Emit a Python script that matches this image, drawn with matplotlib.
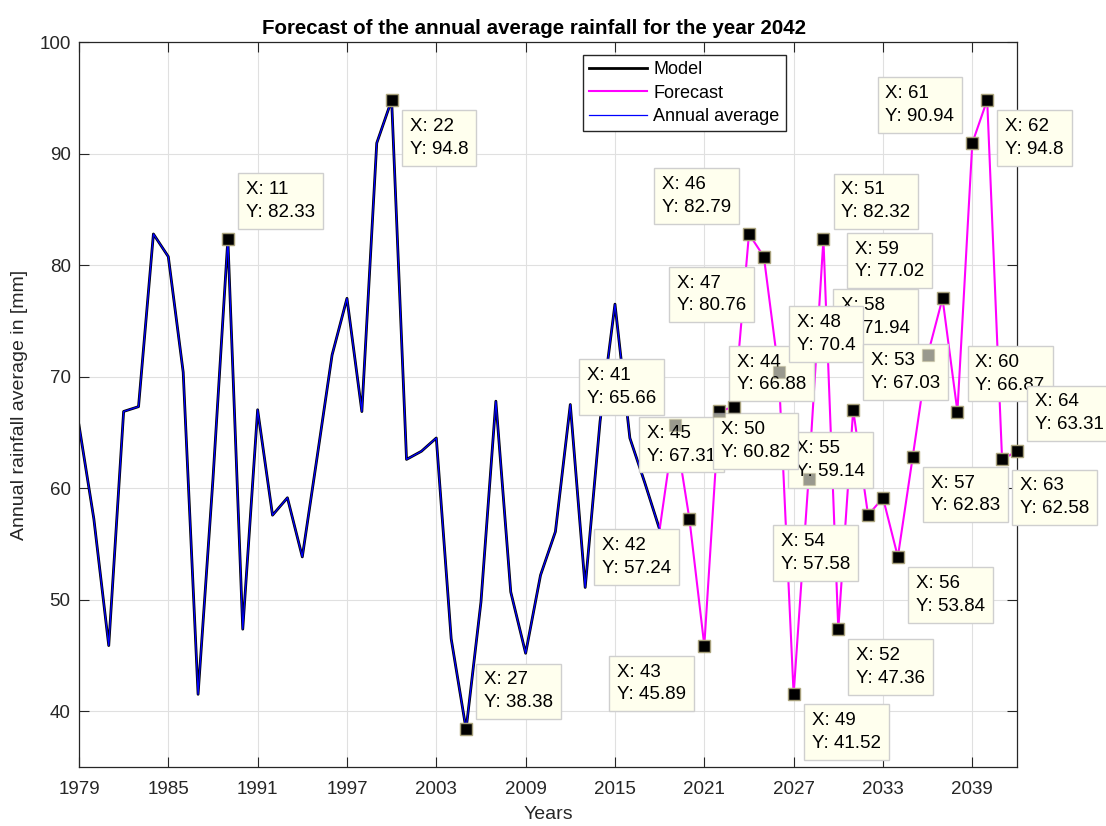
import matplotlib.pyplot as plt

plt.rcParams['font.family'] = ['Liberation Sans', 'DejaVu Sans']

# observed annual average 1979-2018
years_hist = list(range(1979, 2019))
rain_hist = [65.66, 57.24, 45.89, 66.88, 67.31, 82.79, 80.76, 70.40, 41.52, 60.82,
             82.33, 47.36, 67.03, 57.58, 59.14, 53.84, 62.83, 71.94, 77.02, 66.87,
             90.94, 94.80, 62.58, 63.31, 64.50, 46.50, 38.38, 49.80, 67.80, 50.70,
             45.20, 52.20, 56.10, 67.50, 51.10, 66.00, 76.50, 64.50, 60.50, 56.30]

# forecast 2019-2042
years_fc = list(range(2019, 2043))
rain_fc = [65.66, 57.24, 45.89, 66.88, 67.31, 82.79, 80.76, 70.40, 41.52, 60.82,
           82.32, 47.36, 67.03, 57.58, 59.14, 53.84, 62.83, 71.94, 77.02, 66.87,
           90.94, 94.80, 62.58, 63.31]

# data tips (index into the whole series) and the side the box sits on
tip_side = {11: 'ur', 22: 'lr', 27: 'ur', 41: 'ul', 42: 'll', 43: 'll', 44: 'ur',
            45: 'll', 46: 'ul', 47: 'll', 48: 'ur', 49: 'lr', 50: 'ul', 51: 'ur',
            52: 'lr', 53: 'ur', 54: 'll', 55: 'ul', 56: 'lr', 57: 'lr', 58: 'ul',
            59: 'ul', 60: 'ur', 61: 'ul', 62: 'lr', 63: 'lr', 64: 'ur'}
tip_order = [11, 22, 27, 41, 42, 43, 44, 45, 46, 47, 58, 55, 48, 49, 50, 51, 52,
             53, 54, 56, 57, 59, 60, 61, 62, 63, 64]

all_years = years_hist + years_fc
all_rain = rain_hist + rain_fc

fig = plt.figure(figsize=(11.06, 8.26), dpi=100)
ax = fig.add_axes([0.0714, 0.0714, 0.8481, 0.8777])

ax.plot(years_hist, rain_hist, color='k', lw=2.0, label='Model', zorder=2)
ax.plot([years_hist[-1]] + years_fc, [rain_hist[-1]] + rain_fc, color='#ff00ff',
        lw=1.5, label='Forecast', zorder=2)
ax.plot(years_hist, rain_hist, color='#0000ff', lw=0.9, label='Annual average', zorder=2.1)

# tip markers: solid below the boxes, faint copy above so covered ones look grey
tx = [all_years[i - 1] for i in tip_order]
ty = [all_rain[i - 1] for i in tip_order]
ax.plot(tx, ty, 's', ms=9, mfc='k', mec='#bdb68c', mew=1, zorder=4, clip_on=False)
ax.plot(tx, ty, 's', ms=9, mfc='k', mec='#bdb68c', mew=1, alpha=0.4, zorder=20, clip_on=False)

off = 18
for k, idx in enumerate(tip_order):
    side = tip_side[idx]
    sx = 1 if side[1] == 'r' else -1
    sy = 1 if side[0] == 'u' else -1
    x, y = all_years[idx - 1], all_rain[idx - 1]
    ax.annotate(f'X: {idx}\nY: {y:.4g}', (x, y), xytext=(sx * off, sy * off),
                textcoords='offset pixels',
                ha='left' if sx > 0 else 'right', va='bottom' if sy > 0 else 'top',
                multialignment='left',
                fontsize=13.5, linespacing=1.45, color='black',
                bbox=dict(boxstyle='square,pad=0.42', fc='#ffffee', ec='#cfcfcf', lw=1),
                zorder=5 + k * 0.01, annotation_clip=False)

ax.set_xlim(1979, 2042)
ax.set_ylim(35, 100)
ax.set_xticks(range(1979, 2042, 6))
ax.set_yticks(range(40, 101, 10))
ax.tick_params(direction='in', length=7, top=True, right=True, colors='#262626',
               labelsize=13.5, width=0.8)
ax.tick_params(axis='x', pad=10)
ax.tick_params(axis='y', pad=6)
ax.grid(True, color='#e0e0e0', lw=0.8)
ax.set_axisbelow(True)
for s in ax.spines.values():
    s.set_color('#262626')
    s.set_linewidth(0.9)

ax.set_title('Forecast of the annual average rainfall for the year 2042',
             fontsize=14.8, fontweight='bold', x=0.485)
ax.set_xlabel('Years', fontsize=14, color='#262626', labelpad=6)
ax.set_ylabel('Annual rainfall average in [mm]', fontsize=14, color='#262626', labelpad=8)

leg = ax.legend(loc='upper left', bbox_to_anchor=(0.537, 0.982), borderaxespad=0,
                fontsize=13, fancybox=False, framealpha=1, edgecolor='#262626',
                handlelength=3.2, handletextpad=0.35, labelspacing=0.35, borderpad=0.35)
leg.get_frame().set_linewidth(1)

fig.savefig('out.png', dpi=100)
